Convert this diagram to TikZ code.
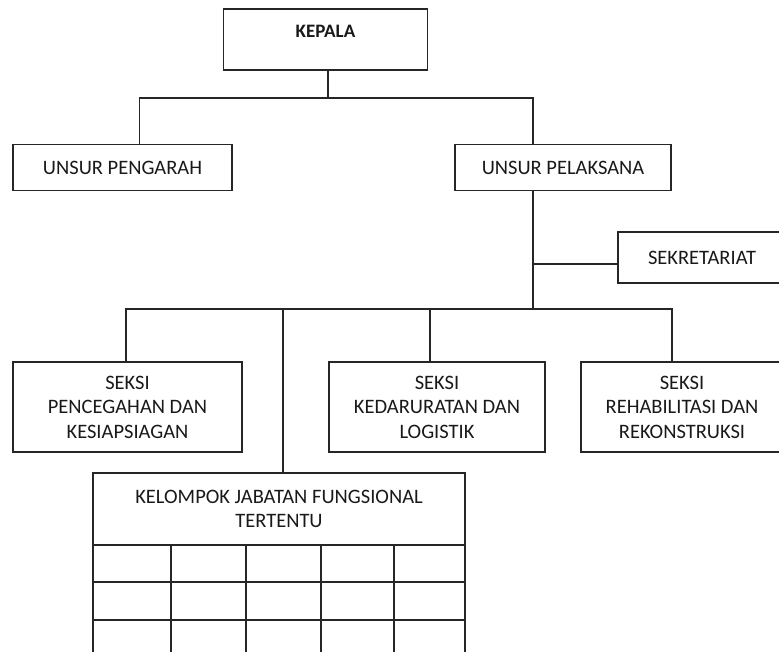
\documentclass[tikz,border=0pt]{standalone}
\usepackage{fontspec}
\setmainfont{Carlito}
\usepackage{tikz}
\usetikzlibrary{positioning, calc}

\begin{document}
\begin{tikzpicture}[x=1pt, y=-1pt,
    unit/.style={rectangle, draw=black!85, line width=1.1pt, text=black!90, align=center, inner sep=0pt, font=\fontsize{20.5}{24.5}\selectfont},
    head/.style={unit, font=\bfseries\fontsize{19}{23}\selectfont, text height=12pt, text depth=16pt},
    line/.style={draw, line width=1.1pt, black!85}]

    \useasboundingbox (0,0) rectangle (779,652);
    \clip (0,0) rectangle (779,652);

    % top level
    \node [head, minimum width=204, minimum height=61] (kepala) at (325.5,39.5) {KEPALA};
    \node [unit, minimum width=219, minimum height=46] (pengarah) at (122.5,167.5) {UNSUR PENGARAH};
    \node [unit, minimum width=216, minimum height=46] (pelaksana) at (563,167.5) {UNSUR PELAKSANA};
    \node [unit, minimum width=168, minimum height=51] (sekretariat) at (702,257.5) {SEKRETARIAT};

    % seksi
    \node [unit, minimum width=229, minimum height=90] (pencegahan) at (127.5,407) {SEKSI\\PENCEGAHAN DAN\\KESIAPSIAGAN};
    \node [unit, minimum width=216, minimum height=90] (kedaruratan) at (437,407) {SEKSI\\KEDARURATAN DAN\\LOGISTIK};
    \node [unit, minimum width=202, minimum height=90] (rehabilitasi) at (682,407) {SEKSI\\REHABILITASI DAN\\REKONSTRUKSI};
    \node [unit, minimum width=372, minimum height=72] (kelompok) at (279,509) {KELOMPOK JABATAN FUNGSIONAL\\TERTENTU};

    \coordinate (bus1) at (328,98);
    \coordinate (bus2) at (533,309);
    \coordinate (sek) at (533,264);

    \path [line] (bus1 |- kepala.south) -- (bus1);
    \path [line] ([xshift=17]pengarah.north) |- (bus1) -| ([xshift=-30]pelaksana.north);
    \path [line] ([xshift=-30]pelaksana.south) -- (bus2);
    \path [line] (sek) -- (sek -| sekretariat.west);

    \path [line] ([xshift=-1.5]pencegahan.north) |- (bus2) -| ([xshift=-10]rehabilitasi.north);
    \path [line] ([xshift=-7]kedaruratan.north) |- (bus2);
    \path [line] ([xshift=4]kelompok.north) |- (bus2);

    % grid under kelompok
    \foreach \x in {93,171,246,321,394,465}
        \path [line] (\x,545) -- (\x,665);
    \foreach \y in {582,620}
        \path [line] (93,\y) -- (465,\y);
\end{tikzpicture}
\end{document}
